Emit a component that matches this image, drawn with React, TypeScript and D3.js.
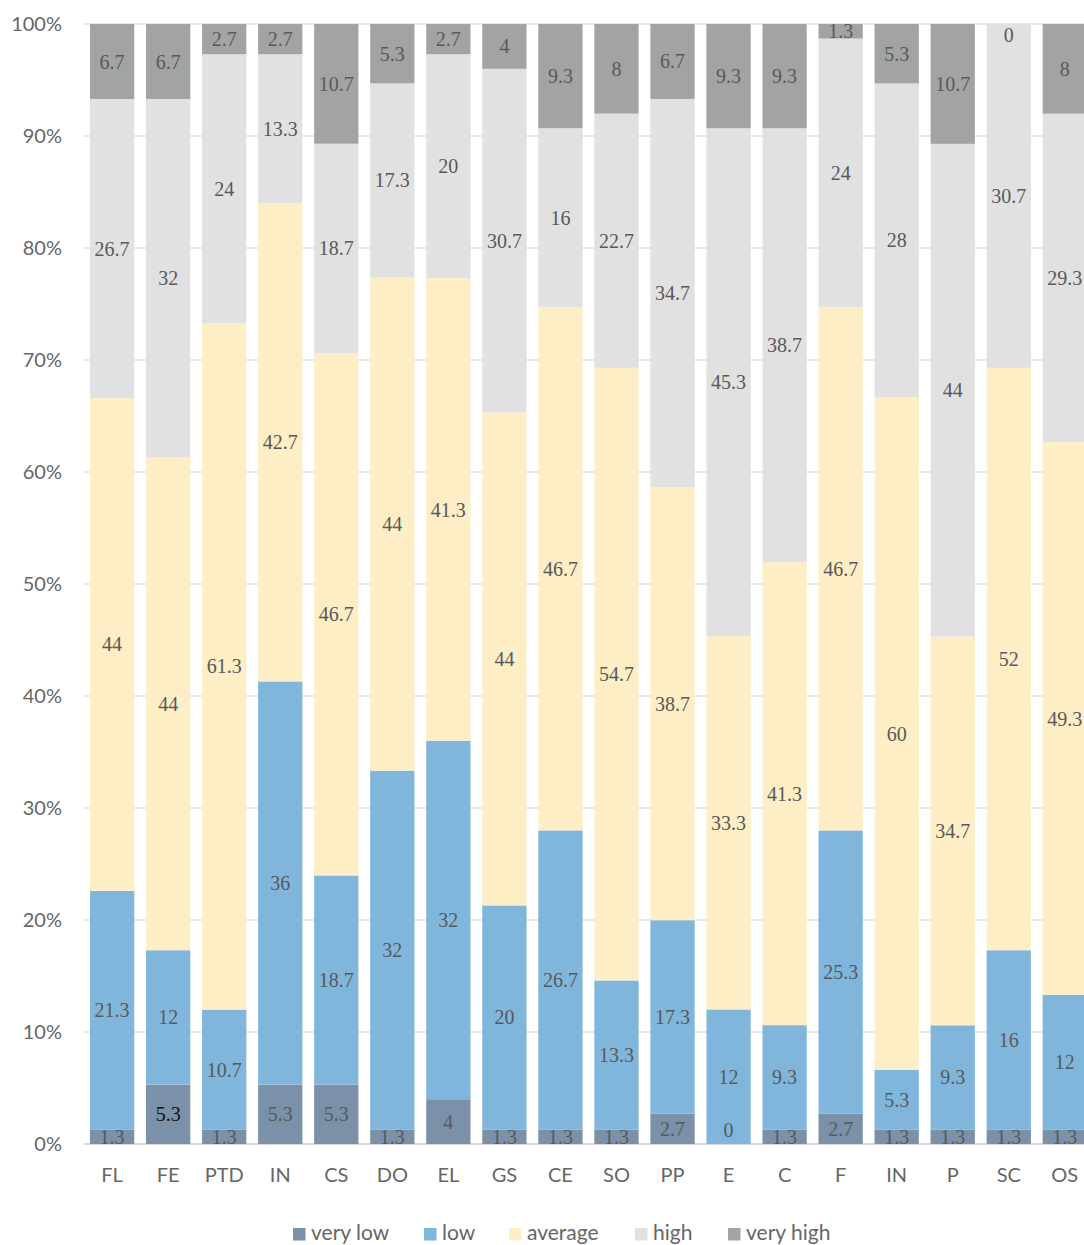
import React from "react";
import * as d3 from "d3";

const categories = ["FL", "FE", "PTD", "IN", "CS", "DO", "EL", "GS", "CE", "SO", "PP", "E", "C", "F", "IN", "P", "SC", "OS"];
const seriesNames = ["very low", "low", "average", "high", "very high"];
const veryLow = [1.3, 5.3, 1.3, 5.3, 5.3, 1.3, 4, 1.3, 1.3, 1.3, 2.7, 0, 1.3, 2.7, 1.3, 1.3, 1.3, 1.3];
const low = [21.3, 12, 10.7, 36, 18.7, 32, 32, 20, 26.7, 13.3, 17.3, 12, 9.3, 25.3, 5.3, 9.3, 16, 12];
const average = [44, 44, 61.3, 42.7, 46.7, 44, 41.3, 44, 46.7, 54.7, 38.7, 33.3, 41.3, 46.7, 60, 34.7, 52, 49.3];
const high = [26.7, 32, 24, 13.3, 18.7, 17.3, 20, 30.7, 16, 22.7, 34.7, 45.3, 38.7, 24, 28, 44, 30.7, 29.3];
const veryHigh = [6.7, 6.7, 2.7, 2.7, 10.7, 5.3, 2.7, 4, 9.3, 8, 6.7, 9.3, 9.3, 1.3, 5.3, 10.7, 0, 8];
const yTicks = [0, 0.1, 0.2, 0.3, 0.4, 0.5, 0.6, 0.7, 0.8, 0.9, 1];
const colors = ["#7b90a9", "#80b6dc", "#fdeec5", "#e1e1e1", "#a2a3a3"];

export default function App() {
  const W = 1084, H = 1245;
  const yTop = 24, yBot = 1144;
  const x0 = 84.1, step = 56.04;
  const seriesValues = [veryLow, low, average, high, veryHigh];
  const rows = categories.map((c, i) => {
    const r: any = { idx: i };
    seriesNames.forEach((s, k) => (r[s] = seriesValues[k][i]));
    return r;
  });
  const stack = d3.stack<any>().keys(seriesNames).offset(d3.stackOffsetExpand);
  const stacked = stack(rows);
  const x = d3.scaleBand<number>()
    .domain(categories.map((_, i) => i))
    .range([x0, x0 + step * categories.length])
    .paddingInner(0.21)
    .paddingOuter(0.105);
  const y = d3.scaleLinear().domain([0, 1]).range([yBot, yTop]);
  const fmt = d3.format(".0%");
  const legendX = [293, 424, 509, 635, 728];
  const sans = "Lato, 'Open Sans', sans-serif";
  const serif = "'Liberation Serif', 'Times New Roman', serif";

  return (
    <svg width={W} height={H} style={{ position: "absolute", left: 0, top: 0 }}>
      <defs>
        <clipPath id="plotclip">
          <rect x={0} y={yTop} width={W} height={yBot - yTop} />
        </clipPath>
      </defs>
      {yTicks.map((t) => (
        <g key={t}>
          <line x1={x0} x2={W} y1={y(t)} y2={y(t)} stroke={t === 0 ? "#d9d9d9" : "#e0e0e0"} strokeWidth={t === 0 ? 2 : 1.3} />
          <text x={62} y={y(t)} dy="0.36em" textAnchor="end" fontFamily={sans} fontSize={20} fill="#666">
            {fmt(t)}
          </text>
        </g>
      ))}
      {stacked.map((s, k) => (
        <g key={s.key}>
          {s.map((d, i) => (
            <rect key={i} x={x(i)} width={x.bandwidth()} y={y(d[1])} height={Math.max(0, y(d[0]) - y(d[1]))} fill={colors[k]} />
          ))}
        </g>
      ))}
      <g clipPath="url(#plotclip)">
        {stacked.map((s, k) => (
          <g key={s.key}>
            {s.map((d, i) => {
              const v = seriesValues[k][i];
              let cy = (y(d[0]) + y(d[1])) / 2;
              if (v === 0) {
                cy = d[1] >= 0.999 ? yTop + 11 : d[0] <= 0.001 ? yBot - 14 : cy;
              }
              const dark = k === 0 && i === 1;
              return (
                <text key={i} x={(x(i) as number) + x.bandwidth() / 2} y={cy} dy="0.35em" textAnchor="middle" fontFamily={serif} fontSize={20} fill={dark ? "#111" : "#595959"}>
                  {String(v)}
                </text>
              );
            })}
          </g>
        ))}
      </g>
      {categories.map((c, i) => (
        <text key={i} x={(x(i) as number) + x.bandwidth() / 2} y={1182} textAnchor="middle" fontFamily={sans} fontSize={20} fill="#666">
          {c}
        </text>
      ))}
      {seriesNames.map((s, k) => (
        <g key={s}>
          <rect x={legendX[k]} y={1228} width={12.5} height={12.5} fill={colors[k]} />
          <text x={legendX[k] + 18} y={1240} fontFamily={sans} fontSize={21} fill="#666">
            {s}
          </text>
        </g>
      ))}
    </svg>
  );
}
